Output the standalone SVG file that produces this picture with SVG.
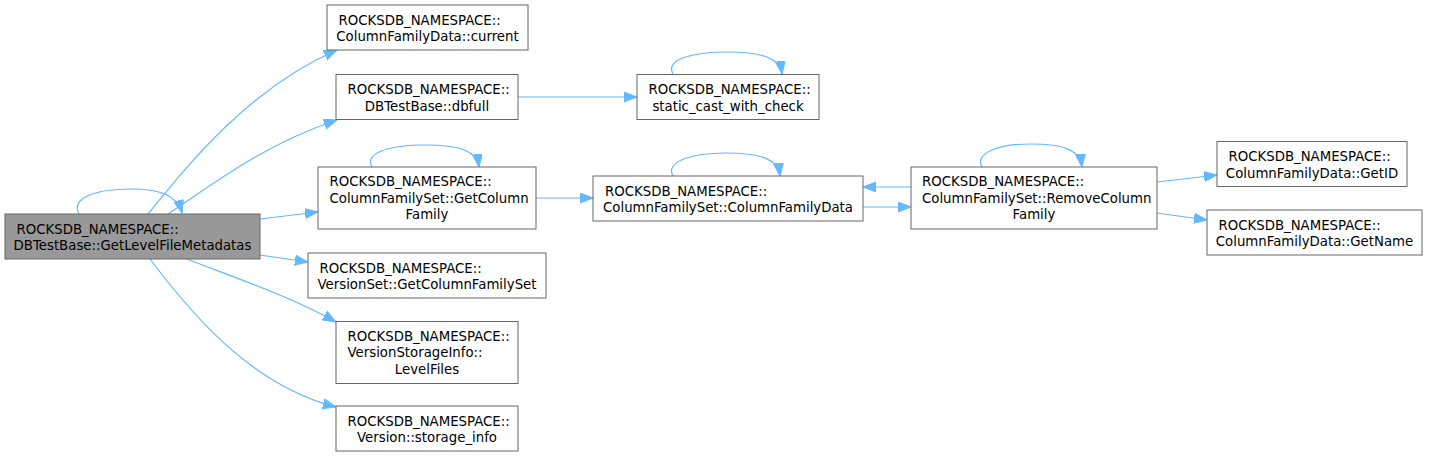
<svg xmlns="http://www.w3.org/2000/svg" width="1429" height="458" viewBox="0 0 1429 458">
<style>
.box{fill:#ffffff;stroke:#666666;stroke-width:1}
.main{fill:#999999;stroke:#666666;stroke-width:1}
text{font-family:"DejaVu Sans","Liberation Sans",sans-serif;font-size:13.3px;fill:#000000}
.m{text-anchor:middle}
.e{fill:none;stroke:#63b8ff;stroke-width:1.2}
</style>
<defs>
<marker id="arr" markerUnits="userSpaceOnUse" markerWidth="14" markerHeight="12" refX="13" refY="5" orient="auto">
<path d="M0,0 L13,5 L0,10 z" fill="#63b8ff" stroke="#63b8ff" stroke-width="1"/>
</marker>
</defs>
<g id="edges">
<path class="e" marker-end="url(#arr)" d="M79,214 C70,198 96,189 131,189 C160,189 177,195 182,213"/>
<path class="e" marker-end="url(#arr)" d="M148,214 C190,162 250,88 337,50"/>
<path class="e" marker-end="url(#arr)" d="M168,214 C212,185 262,145 337,120"/>
<path class="e" marker-end="url(#arr)" d="M260,219 L318,212"/>
<path class="e" marker-end="url(#arr)" d="M260,255 L308,262"/>
<path class="e" marker-end="url(#arr)" d="M187,259 C230,276 290,296 336,322"/>
<path class="e" marker-end="url(#arr)" d="M150,259 C190,312 250,385 336,407"/>
<path class="e" marker-end="url(#arr)" d="M518,97 L637,97"/>
<path class="e" marker-end="url(#arr)" d="M673,74 C665,60 691,52 727,52 C762,52 780,58 782,74"/>
<path class="e" marker-end="url(#arr)" d="M372,167 C364,153 389,145 425,145 C460,145 477,151 479,167"/>
<path class="e" marker-end="url(#arr)" d="M536,198 L593,198"/>
<path class="e" marker-end="url(#arr)" d="M673,176 C665,162 690,153 726,153 C761,153 778,159 780,176"/>
<path class="e" marker-end="url(#arr)" d="M911,187 L863,187"/>
<path class="e" marker-end="url(#arr)" d="M863,207 L911,207"/>
<path class="e" marker-end="url(#arr)" d="M982,167 C974,153 999,144 1031,144 C1064,144 1080,150 1082,167"/>
<path class="e" marker-end="url(#arr)" d="M1157,182 L1217,175"/>
<path class="e" marker-end="url(#arr)" d="M1157,213 L1207,220"/>
</g>
<g id="n_main">
<rect class="main" x="5" y="214" width="255" height="45"/>
<text x="16.5" y="233.5">ROCKSDB_NAMESPACE::</text>
<text class="m" x="132.5" y="250">DBTestBase::GetLevelFileMetadatas</text>
</g>
<g id="n_current">
<rect class="box" x="327" y="5" width="201" height="45"/>
<text x="338.5" y="24.5">ROCKSDB_NAMESPACE::</text>
<text class="m" x="427.5" y="41">ColumnFamilyData::current</text>
</g>
<g id="n_dbfull">
<rect class="box" x="336" y="74.5" width="182" height="45"/>
<text x="347.5" y="94">ROCKSDB_NAMESPACE::</text>
<text class="m" x="427" y="110.5">DBTestBase::dbfull</text>
</g>
<g id="n_getcf">
<rect class="box" x="318" y="167" width="218" height="62"/>
<text x="329.5" y="186">ROCKSDB_NAMESPACE::</text>
<text x="329.5" y="202.5">ColumnFamilySet::GetColumn</text>
<text class="m" x="427" y="219">Family</text>
</g>
<g id="n_getcfset">
<rect class="box" x="308" y="253" width="238" height="45"/>
<text x="319.5" y="272.5">ROCKSDB_NAMESPACE::</text>
<text class="m" x="427" y="289">VersionSet::GetColumnFamilySet</text>
</g>
<g id="n_levelfiles">
<rect class="box" x="336" y="321.5" width="182" height="62"/>
<text x="347.5" y="340.5">ROCKSDB_NAMESPACE::</text>
<text x="347.5" y="357">VersionStorageInfo::</text>
<text class="m" x="427" y="373.5">LevelFiles</text>
</g>
<g id="n_storageinfo">
<rect class="box" x="336" y="406" width="182" height="45"/>
<text x="347.5" y="425.5">ROCKSDB_NAMESPACE::</text>
<text class="m" x="427" y="442">Version::storage_info</text>
</g>
<g id="n_staticcast">
<rect class="box" x="637" y="74.5" width="182" height="45"/>
<text x="648.5" y="94">ROCKSDB_NAMESPACE::</text>
<text class="m" x="728" y="110.5">static_cast_with_check</text>
</g>
<g id="n_cfsdata">
<rect class="box" x="593" y="176" width="270" height="45"/>
<text x="605" y="195.5">ROCKSDB_NAMESPACE::</text>
<text class="m" x="728" y="212">ColumnFamilySet::ColumnFamilyData</text>
</g>
<g id="n_remove">
<rect class="box" x="911" y="167" width="246" height="62"/>
<text x="922" y="186">ROCKSDB_NAMESPACE::</text>
<text x="922" y="202.5">ColumnFamilySet::RemoveColumn</text>
<text class="m" x="1034" y="219">Family</text>
</g>
<g id="n_getid">
<rect class="box" x="1217" y="141.5" width="190" height="45"/>
<text x="1228.5" y="161">ROCKSDB_NAMESPACE::</text>
<text class="m" x="1312" y="177.5">ColumnFamilyData::GetID</text>
</g>
<g id="n_getname">
<rect class="box" x="1207" y="210" width="215" height="45"/>
<text x="1218.5" y="229.5">ROCKSDB_NAMESPACE::</text>
<text class="m" x="1314.5" y="246">ColumnFamilyData::GetName</text>
</g>
</svg>
